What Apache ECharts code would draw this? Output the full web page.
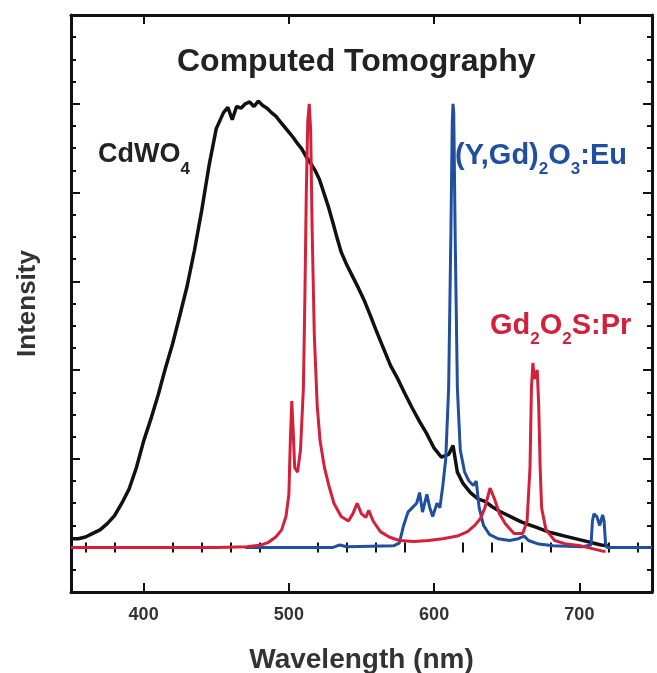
<!DOCTYPE html>
<html>
<head>
<meta charset="utf-8">
<script src="https://cdn.jsdelivr.net/npm/echarts@6/dist/echarts.min.js"></script>
<style>
  html, body { margin: 0; padding: 0; background: #fff; }
  #main { width: 657px; height: 673px; }
</style>
</head>
<body>
<div id="main"></div>
<script>
// CdWO4 emission (black)
var cdwoNm = [350,355,360,365,370,375,380,385,390,395,400,405,410,415,420,425,430,435,440,445,450,455,458,461,464,467,470,473,476,479,482,485,488,491,494,497,500,503,506,509,512,515,518,521,524,527,530,533,536,540,544,548,552,556,560,565,570,575,580,585,590,595,600,605,610,613,616,620,625,630,635,640,645,650,655,660,665,670,675,680,685,690,695,700,705,710,715,720];
var cdwoVal = [0.10,0.10,0.12,0.16,0.20,0.27,0.36,0.50,0.66,0.90,1.20,1.45,1.72,2.02,2.30,2.62,2.95,3.35,3.80,4.30,4.72,4.90,4.96,4.82,4.97,4.95,5.00,5.02,4.97,5.03,4.98,4.95,4.90,4.86,4.80,4.74,4.68,4.62,4.55,4.49,4.40,4.33,4.25,4.15,4.00,3.85,3.68,3.50,3.33,3.18,3.05,2.92,2.78,2.62,2.45,2.25,2.05,1.90,1.73,1.57,1.42,1.28,1.12,1.02,1.05,1.15,0.85,0.72,0.62,0.55,0.52,0.46,0.41,0.37,0.33,0.29,0.26,0.23,0.20,0.17,0.15,0.13,0.11,0.09,0.07,0.05,0.03,0.02];

// (Y,Gd)2O3:Eu emission (blue)
var euNm = [470,530,535,540,572,576,579,582,585,588,590,592,595,597,599,602,604,606,608,610,611.5,612.5,613,613.5,614.5,616,618,621,624,627,629,631,634,638,644,652,658,662,665,672,682,702,708,709,710,712,714,716,717,718,719,750];
var euVal = [0,0,0.03,0.01,0.02,0.05,0.25,0.40,0.45,0.50,0.62,0.40,0.60,0.45,0.35,0.50,0.45,0.70,1.00,1.80,3.50,4.80,5.00,4.90,3.50,1.80,1.10,0.85,0.75,0.70,0.75,0.45,0.25,0.15,0.10,0.08,0.10,0.13,0.08,0.04,0.02,0.01,0.03,0.30,0.38,0.35,0.25,0.37,0.30,0.05,0,0];

// Gd2O2S:Pr emission (red)
var prNm = [350,400,450,471,481,486,491,495,498,500,501,502,503,504,506,508,510,511,512,513,514,515,516,517.5,519.5,521.5,524.5,527.5,531,536,541,544,547,550,553,555,558,563,569,576,586,596,606,616,623,628,632,635,638.5,641.5,645,649,655,661,664,666,667,668,669,670,671,672,673,674,677,683,691,701,711,716,718];
var prVal = [0,0,0,0.01,0.03,0.06,0.12,0.20,0.35,0.60,1.20,1.65,1.30,0.90,0.85,1.10,1.80,2.80,4.00,4.80,5.00,4.70,3.60,2.40,1.60,1.20,0.90,0.70,0.50,0.35,0.30,0.38,0.50,0.38,0.34,0.42,0.30,0.18,0.12,0.08,0.07,0.08,0.10,0.13,0.18,0.25,0.33,0.45,0.67,0.55,0.38,0.27,0.16,0.16,0.30,0.90,1.80,2.08,1.90,1.95,2.00,1.60,0.90,0.45,0.20,0.08,0.04,0.02,-0.02,-0.04,-0.04];

var xMajor = [400, 500, 600, 700];
var xMinor = [360,380,420,440,460,480,520,540,560,580,620,640,660,680,720,740];
var yMajor = [0, 1, 2, 3, 4, 5];
var yMinor = [-0.25,0.25,0.5,0.75,1.25,1.5,1.75,2.25,2.5,2.75,3.25,3.5,3.75,4.25,4.5,4.75,5.25,5.5,5.75];

function pairs(xs, ys) {
  return xs.map(function (x, i) { return [x, ys[i]]; });
}

var font = 'Liberation Sans, Arial, sans-serif';
var frame = { show: true, onZero: false, lineStyle: { color: '#111', width: 3 } };

function xAx(pos, ticks, len, main) {
  return {
    type: 'value', position: pos, min: 350, max: 750,
    axisLine: main ? frame : { show: false },
    axisTick: { show: true, inside: true, length: len, customValues: ticks, lineStyle: { color: '#111', width: 2 } },
    axisLabel: (main && pos === 'bottom') ? {
      show: true, customValues: xMajor, margin: 14,
      fontFamily: font, fontWeight: 'bold', fontSize: 18, color: '#333'
    } : { show: false },
    splitLine: { show: false },
    name: (main && pos === 'bottom') ? 'Wavelength (nm)' : '',
    nameLocation: 'middle', nameGap: 54,
    nameTextStyle: { fontFamily: font, fontWeight: 'bold', fontSize: 28, color: '#333' }
  };
}
function yAx(pos, ticks, len, main) {
  return {
    type: 'value', position: pos, min: -0.5, max: 6,
    axisLine: main ? frame : { show: false },
    axisTick: { show: true, inside: true, length: len, customValues: ticks, lineStyle: { color: '#111', width: 2 } },
    axisLabel: { show: false },
    splitLine: { show: false },
    name: (main && pos === 'left') ? 'Intensity' : '',
    nameLocation: 'middle', nameGap: 30,
    nameTextStyle: { fontFamily: font, fontWeight: 'bold', fontSize: 26, color: '#333' }
  };
}

function subLabel(x, y, parts, color, size) {
  // parts alternate between normal text and subscripts
  var text = parts.map(function (p, i) { return (i % 2 ? '{s|' : '{m|') + p + '}'; }).join('');
  return {
    type: 'text', left: x, top: y, silent: true,
    style: {
      text: text,
      rich: {
        m: { fontFamily: font, fontWeight: 'bold', fontSize: size, lineHeight: 30, verticalAlign: 'top', fill: color, color: color },
        s: { fontFamily: font, fontWeight: 'bold', fontSize: 17, lineHeight: 20, verticalAlign: 'top', padding: [20, 0, 0, 0], fill: color, color: color }
      }
    }
  };
}

var chart = echarts.init(document.getElementById('main'));
chart.setOption({
  animation: false,
  backgroundColor: '#fff',
  title: {
    text: 'Computed Tomography', left: 172, top: 41,
    textStyle: { fontFamily: font, fontWeight: 'bold', fontSize: 32, color: '#222' }
  },
  grid: { left: 71, top: 15, right: 5, bottom: 81, outerBoundsMode: 'none' },
  xAxis: [
    xAx('bottom', xMajor, 9, true),
    xAx('bottom', xMinor, 5, false),
    xAx('top', xMajor, 9, true),
    xAx('top', xMinor, 5, false)
  ],
  yAxis: [
    yAx('left', yMajor, 9, true),
    yAx('left', yMinor, 5, false),
    yAx('right', yMajor, 9, true),
    yAx('right', yMinor, 5, false)
  ],
  series: [
    { name: 'CdWO4', type: 'line', data: pairs(cdwoNm, cdwoVal), showSymbol: false,
      lineStyle: { color: '#111', width: 3.5 }, itemStyle: { color: '#111' } },
    { name: '(Y,Gd)2O3:Eu', type: 'line', data: pairs(euNm, euVal), showSymbol: false,
      lineStyle: { color: '#1f4f9e', width: 3 }, itemStyle: { color: '#1f4f9e' } },
    { name: 'Gd2O2S:Pr', type: 'line', data: pairs(prNm, prVal), showSymbol: false,
      lineStyle: { color: '#d3203b', width: 3 }, itemStyle: { color: '#d3203b' } }
  ],
  graphic: [
    subLabel(98, 141, ['CdWO', '4'], '#222', 27),
    subLabel(455, 141, ['(Y,Gd)', '2', 'O', '3', ':Eu'], '#1f4f9e', 29),
    subLabel(490, 311, ['Gd', '2', 'O', '2', 'S:Pr'], '#d3203b', 29)
  ]
});
</script>
</body>
</html>
